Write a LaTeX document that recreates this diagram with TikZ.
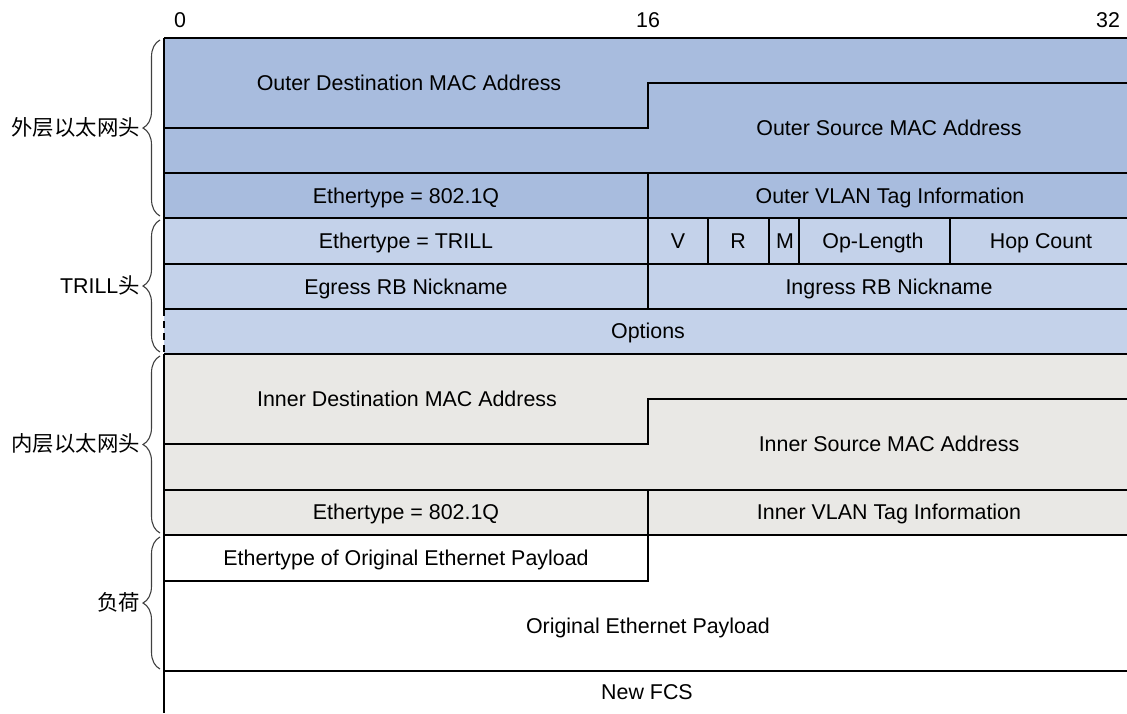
\documentclass[tikz,border=0pt]{standalone}
\usepackage{fontspec}
\setmainfont{Liberation Sans}
\newfontfamily\cjk{Noto Sans CJK SC}
\usetikzlibrary{decorations.pathreplacing}
\definecolor{outerblue}{RGB}{168,188,222}
\definecolor{trillblue}{RGB}{196,210,234}
\definecolor{innergray}{RGB}{233,232,229}
\begin{document}
\begin{tikzpicture}[x=1pt,y=-1pt,
  font=\fontsize{21.4}{25}\selectfont,
  rule/.style={line width=2.5pt},
  field/.style={inner sep=0pt, text height=15pt, text depth=0pt, anchor=center},
  grp/.style={decorate, decoration={brace, amplitude=17pt}, line width=1.1pt, draw=black!75},
  grplabel/.style={anchor=east, inner sep=0pt, text height=15pt, text depth=0pt}]
\useasboundingbox (0,0) rectangle (1127,713);

% header backgrounds
\fill[outerblue] (164,38) rectangle (1127,218);
\fill[trillblue] (164,218) rectangle (1127,354);
\fill[innergray] (164,354) rectangle (1127,535);

% full-width row separators
\foreach \y in {38,173,218,264,309,354,490,535,671}
  \draw[rule] (164,\y) -- (1127,\y);

% staggered 48-bit MAC address fields
\draw[rule] (164,128) -- (648,128) -- (648,83) -- (1127,83);
\draw[rule] (164,444) -- (648,444) -- (648,399) -- (1127,399);
\draw[rule] (164,581) -- (648,581) -- (648,535);

% 16-bit column dividers
\draw[rule] (648,173) -- (648,309);
\draw[rule] (648,490) -- (648,535);
\foreach \x in {708,769,799,950}
  \draw[rule] (\x,218) -- (\x,264);

% left border, dashed across the optional field
\draw[rule] (164,38) -- (164,309);
\draw[rule, dash pattern=on 7pt off 5pt] (164,309) -- (164,354);
\draw[rule] (164,354) -- (164,713);

% bit ruler
\node[field] (b0)  at (180,20)  {0};
\node[field] (b16) at (648,20)  {16};
\node[field] (b32) at (1108,20) {32};

% field labels
\node[field] (odst)  at (409,83)  {Outer Destination MAC Address};
\node[field] (osrc)  at (889,128) {Outer Source MAC Address};
\node[field] (oeth)  at (406,196) {Ethertype = 802.1Q};
\node[field] (ovlan) at (890,196) {Outer VLAN Tag Information};
\node[field] (teth)  at (406,241) {Ethertype = TRILL};
\node[field] (tv)    at (678,241) {V};
\node[field] (tr)    at (738,241) {R};
\node[field] (tm)    at (785,241) {M};
\node[field] (tol)   at (873,241) {Op-Length};
\node[field] (thc)   at (1041,241) {Hop Count};
\node[field] (egr)   at (406,287) {Egress RB Nickname};
\node[field] (ingr)  at (889,287) {Ingress RB Nickname};
\node[field] (opt)   at (648,331) {Options};
\node[field] (idst)  at (407,399) {Inner Destination MAC Address};
\node[field] (isrc)  at (889,444) {Inner Source MAC Address};
\node[field] (ieth)  at (406,512) {Ethertype = 802.1Q};
\node[field] (ivlan) at (889,512) {Inner VLAN Tag Information};
\node[field] (peth)  at (406,558) {Ethertype of Original Ethernet Payload};
\node[field] (pay)   at (648,626) {Original Ethernet Payload};
\node[field] (fcs)   at (647,692) {New FCS};

% group braces
\draw[grp] (160,216) -- (160,40);
\draw[grp] (160,352) -- (160,220);
\draw[grp] (160,533) -- (160,356);
\draw[grp] (160,669) -- (160,537);

\node[grplabel] (gouter) at (140,128) {\cjk 外层以太网头};
\node[grplabel] (gtrill) at (140,286) {TRILL{\cjk 头}};
\node[grplabel] (ginner) at (140,444) {\cjk 内层以太网头};
\node[grplabel] (gpay)   at (140,603) {\cjk 负荷};
\end{tikzpicture}
\end{document}
